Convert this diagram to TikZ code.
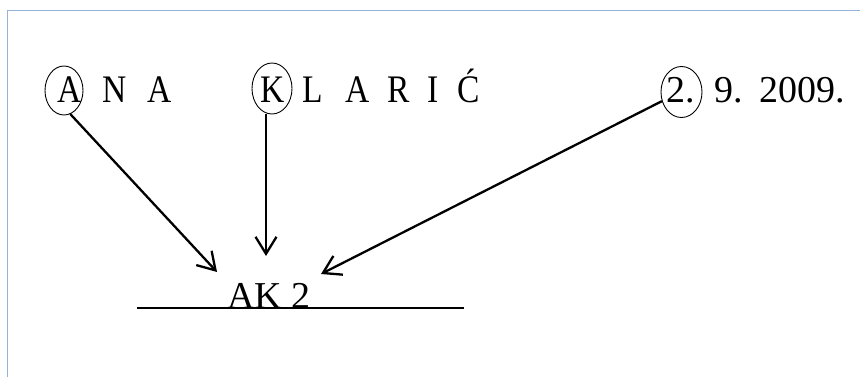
\documentclass[tikz,border=0pt]{standalone}
\usepackage{fontspec}
\setmainfont{Liberation Serif}
\newfontfamily\narrowserif[FakeStretch=0.86]{Liberation Serif}
\usetikzlibrary{shapes.geometric,arrows.meta}
\definecolor{frameblue}{RGB}{149,179,215}
\tikzset{
  letter/.style={anchor=base west, inner sep=0pt, font=\narrowserif\fontsize{39}{41}\selectfont},
  digits/.style={anchor=base west, inner sep=0pt, font=\fontsize{38}{40}\selectfont},
  ring/.style={ellipse, draw, line width=0.9pt, inner sep=0pt},
  pointer/.style={line width=2.3pt, -{Straight Barb[length=17pt,width=21pt,line width=2.3pt]}},
}
\begin{document}
\begin{tikzpicture}[x=1pt,y=-1pt]
\useasboundingbox (0,0) rectangle (860,377);
\draw[frameblue, line width=1.2pt] (7.3,377) -- (7.3,10.5) -- (860,10.5);
% first name
\node[letter] (a1) at (57,103) {A};
\node[letter] (n1) at (102,103) {N};
\node[letter] (a2) at (147,103) {A};
% surname
\node[letter] (k1) at (260,103) {K};
\node[letter] (l1) at (302,103) {L};
\node[letter] (a3) at (345,103) {A};
\node[letter] (r1) at (387,103) {R};
\node[letter] (i1) at (427,103) {I};
\node[letter] (c1) at (457,103) {Ć};
% date
\node[digits] (d1) at (666,103) {2.};
\node[digits] (d2) at (714,103) {9.};
\node[digits] (d3) at (759,103) {2009.};
% rings
\node[ring, minimum width=38pt, minimum height=49pt] (rA) at (64,90.5) {};
\node[ring, minimum width=40pt, minimum height=51pt] (rK) at (272,88.5) {};
\node[ring, minimum width=41pt, minimum height=51pt] (r2) at (681.5,92) {};
% result
\node[digits] (res) at (227,308) {AK 2};
\coordinate (ls) at (137,308);
\coordinate (le) at (464,308);
\draw[line width=1.8pt] (ls) -- (le);
% arrow tips
\coordinate (tA) at (217,272);
\coordinate (tK) at (266,256);
\coordinate (t2) at (321,274);
\draw[pointer] (rA.285) -- (tA);
\draw[pointer] (tK |- rK.south) -- (tK);
\draw[pointer] (r2.205) -- (t2);
\end{tikzpicture}
\end{document}
